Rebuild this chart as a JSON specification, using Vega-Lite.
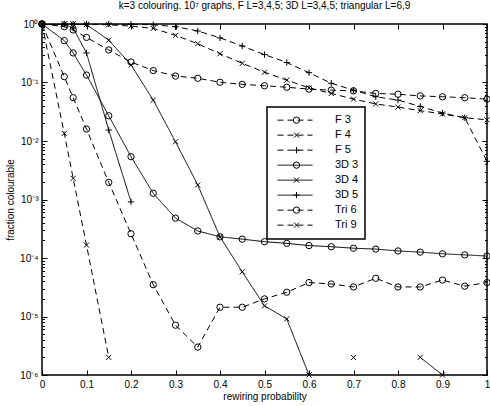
{
  "$schema": "https://vega.github.io/schema/vega-lite/v6.json",
  "width": 445,
  "height": 351,
  "autosize": {"type": "none"},
  "padding": {"left": 42, "top": 24, "right": 3, "bottom": 31},
  "title": {"text": "k=3 colouring. 10⁷ graphs, F L=3,4,5; 3D L=3,4,5; triangular L=6,9", "fontSize": 10, "font": "Liberation Sans", "fontWeight": "normal", "color": "black", "offset": 8, "anchor": "middle"},
  "config": {
    "view": {"stroke": "black", "strokeWidth": 1.5},
    "legend": {"strokeWidth": 1.5},
    "axis": {"domain": false, "grid": false, "tickColor": "black", "tickWidth": 1, "labelColor": "black", "labelFont": "Liberation Sans", "labelFontSize": 10, "titleFont": "Liberation Sans", "titleFontSize": 10, "titleFontWeight": "normal", "titleColor": "black", "labelOverlap": false, "labelFlush": false, "labelBound": false}
  },
  "data": {"values": [
    {"s": "F 3", "p": 0, "v": 1}, {"s": "F 3", "p": 0.05, "v": 0.9}, {"s": "F 3", "p": 0.07, "v": 0.79}, {"s": "F 3", "p": 0.1, "v": 0.59}, {"s": "F 3", "p": 0.15, "v": 0.36}, {"s": "F 3", "p": 0.2, "v": 0.224}, {"s": "F 3", "p": 0.25, "v": 0.16}, {"s": "F 3", "p": 0.3, "v": 0.129}, {"s": "F 3", "p": 0.35, "v": 0.118}, {"s": "F 3", "p": 0.4, "v": 0.101}, {"s": "F 3", "p": 0.45, "v": 0.093}, {"s": "F 3", "p": 0.5, "v": 0.088}, {"s": "F 3", "p": 0.55, "v": 0.083}, {"s": "F 3", "p": 0.6, "v": 0.077}, {"s": "F 3", "p": 0.65, "v": 0.074}, {"s": "F 3", "p": 0.7, "v": 0.072}, {"s": "F 3", "p": 0.75, "v": 0.065}, {"s": "F 3", "p": 0.8, "v": 0.063}, {"s": "F 3", "p": 0.85, "v": 0.059}, {"s": "F 3", "p": 0.9, "v": 0.057}, {"s": "F 3", "p": 0.95, "v": 0.055}, {"s": "F 3", "p": 1, "v": 0.052},
    {"s": "F 4", "p": 0, "v": 1}, {"s": "F 4", "p": 0.05, "v": 1}, {"s": "F 4", "p": 0.07, "v": 1}, {"s": "F 4", "p": 0.1, "v": 0.99}, {"s": "F 4", "p": 0.15, "v": 0.97}, {"s": "F 4", "p": 0.2, "v": 0.92}, {"s": "F 4", "p": 0.25, "v": 0.84}, {"s": "F 4", "p": 0.3, "v": 0.64}, {"s": "F 4", "p": 0.35, "v": 0.46}, {"s": "F 4", "p": 0.4, "v": 0.31}, {"s": "F 4", "p": 0.45, "v": 0.213}, {"s": "F 4", "p": 0.5, "v": 0.15}, {"s": "F 4", "p": 0.55, "v": 0.11}, {"s": "F 4", "p": 0.6, "v": 0.081}, {"s": "F 4", "p": 0.65, "v": 0.065}, {"s": "F 4", "p": 0.7, "v": 0.052}, {"s": "F 4", "p": 0.75, "v": 0.043}, {"s": "F 4", "p": 0.8, "v": 0.038}, {"s": "F 4", "p": 0.85, "v": 0.033}, {"s": "F 4", "p": 0.9, "v": 0.029}, {"s": "F 4", "p": 0.95, "v": 0.025}, {"s": "F 4", "p": 1, "v": 0.023},
    {"s": "F 5", "p": 0, "v": 1}, {"s": "F 5", "p": 0.05, "v": 1}, {"s": "F 5", "p": 0.07, "v": 1}, {"s": "F 5", "p": 0.1, "v": 1}, {"s": "F 5", "p": 0.15, "v": 1}, {"s": "F 5", "p": 0.2, "v": 0.99}, {"s": "F 5", "p": 0.25, "v": 0.97}, {"s": "F 5", "p": 0.3, "v": 0.9}, {"s": "F 5", "p": 0.35, "v": 0.76}, {"s": "F 5", "p": 0.4, "v": 0.58}, {"s": "F 5", "p": 0.45, "v": 0.42}, {"s": "F 5", "p": 0.5, "v": 0.3}, {"s": "F 5", "p": 0.55, "v": 0.22}, {"s": "F 5", "p": 0.6, "v": 0.147}, {"s": "F 5", "p": 0.65, "v": 0.097}, {"s": "F 5", "p": 0.7, "v": 0.074}, {"s": "F 5", "p": 0.75, "v": 0.057}, {"s": "F 5", "p": 0.8, "v": 0.05}, {"s": "F 5", "p": 0.85, "v": 0.039}, {"s": "F 5", "p": 0.9, "v": 0.03}, {"s": "F 5", "p": 0.95, "v": 0.025}, {"s": "F 5", "p": 1, "v": 0.0045},
    {"s": "3D 3", "p": 0, "v": 1}, {"s": "3D 3", "p": 0.05, "v": 0.52}, {"s": "3D 3", "p": 0.07, "v": 0.32}, {"s": "3D 3", "p": 0.1, "v": 0.134}, {"s": "3D 3", "p": 0.15, "v": 0.027}, {"s": "3D 3", "p": 0.2, "v": 0.0054}, {"s": "3D 3", "p": 0.25, "v": 0.00128}, {"s": "3D 3", "p": 0.3, "v": 0.00048}, {"s": "3D 3", "p": 0.35, "v": 0.00029}, {"s": "3D 3", "p": 0.4, "v": 0.00023}, {"s": "3D 3", "p": 0.45, "v": 0.00021}, {"s": "3D 3", "p": 0.5, "v": 0.00019}, {"s": "3D 3", "p": 0.55, "v": 0.000178}, {"s": "3D 3", "p": 0.6, "v": 0.000163}, {"s": "3D 3", "p": 0.65, "v": 0.000156}, {"s": "3D 3", "p": 0.7, "v": 0.000147}, {"s": "3D 3", "p": 0.75, "v": 0.000142}, {"s": "3D 3", "p": 0.8, "v": 0.000132}, {"s": "3D 3", "p": 0.85, "v": 0.000126}, {"s": "3D 3", "p": 0.9, "v": 0.000118}, {"s": "3D 3", "p": 0.95, "v": 0.000113}, {"s": "3D 3", "p": 1, "v": 0.000108},
    {"s": "3D 4", "p": 0, "v": 1}, {"s": "3D 4", "p": 0.05, "v": 1}, {"s": "3D 4", "p": 0.07, "v": 1}, {"s": "3D 4", "p": 0.1, "v": 0.98}, {"s": "3D 4", "p": 0.15, "v": 0.53}, {"s": "3D 4", "p": 0.2, "v": 0.2}, {"s": "3D 4", "p": 0.25, "v": 0.05}, {"s": "3D 4", "p": 0.3, "v": 0.0097}, {"s": "3D 4", "p": 0.35, "v": 0.00177}, {"s": "3D 4", "p": 0.4, "v": 0.00023}, {"s": "3D 4", "p": 0.45, "v": 0.000058}, {"s": "3D 4", "p": 0.5, "v": 0.0000152}, {"s": "3D 4", "p": 0.55, "v": 0.0000091}, {"s": "3D 4", "p": 0.6, "v": 0.000001}, {"s": "3D 4", "p": 0.65, "v": null}, {"s": "3D 4", "p": 0.7, "v": 0.000002}, {"s": "3D 4", "p": 0.75, "v": null}, {"s": "3D 4", "p": 0.8, "v": null}, {"s": "3D 4", "p": 0.85, "v": 0.000002}, {"s": "3D 4", "p": 0.9, "v": 0.000001},
    {"s": "3D 5", "p": 0, "v": 1}, {"s": "3D 5", "p": 0.05, "v": 0.99}, {"s": "3D 5", "p": 0.07, "v": 0.85}, {"s": "3D 5", "p": 0.1, "v": 0.32}, {"s": "3D 5", "p": 0.15, "v": 0.0154}, {"s": "3D 5", "p": 0.2, "v": 0.00091},
    {"s": "Tri 6", "p": 0, "v": 1}, {"s": "Tri 6", "p": 0.05, "v": 0.126}, {"s": "Tri 6", "p": 0.07, "v": 0.055}, {"s": "Tri 6", "p": 0.1, "v": 0.016}, {"s": "Tri 6", "p": 0.15, "v": 0.00196}, {"s": "Tri 6", "p": 0.2, "v": 0.00026}, {"s": "Tri 6", "p": 0.25, "v": 0.000035}, {"s": "Tri 6", "p": 0.3, "v": 0.0000071}, {"s": "Tri 6", "p": 0.35, "v": 0.000003}, {"s": "Tri 6", "p": 0.4, "v": 0.0000144}, {"s": "Tri 6", "p": 0.45, "v": 0.0000144}, {"s": "Tri 6", "p": 0.5, "v": 0.00002}, {"s": "Tri 6", "p": 0.55, "v": 0.000026}, {"s": "Tri 6", "p": 0.6, "v": 0.000038}, {"s": "Tri 6", "p": 0.65, "v": 0.000036}, {"s": "Tri 6", "p": 0.7, "v": 0.000032}, {"s": "Tri 6", "p": 0.75, "v": 0.000045}, {"s": "Tri 6", "p": 0.8, "v": 0.000032}, {"s": "Tri 6", "p": 0.85, "v": 0.000032}, {"s": "Tri 6", "p": 0.9, "v": 0.000042}, {"s": "Tri 6", "p": 0.95, "v": 0.000033}, {"s": "Tri 6", "p": 1, "v": 0.000038},
    {"s": "Tri 9", "p": 0, "v": 1}, {"s": "Tri 9", "p": 0.05, "v": 0.0135}, {"s": "Tri 9", "p": 0.07, "v": 0.0023}, {"s": "Tri 9", "p": 0.1, "v": 0.000166}, {"s": "Tri 9", "p": 0.15, "v": 0.000002}
  ]},
  "layer": [
    {
      "mark": {"type": "line", "stroke": "black", "strokeWidth": 1, "clip": true},
      "encoding": {
        "x": {"field": "p", "type": "quantitative", "scale": {"domain": [0, 1], "nice": false, "zero": false},
          "axis": {"orient": "bottom", "values": [0, 0.1, 0.2, 0.3, 0.4, 0.5, 0.6, 0.7, 0.8, 0.9, 1], "format": "~g", "tickSize": -5, "labelPadding": 9, "title": "rewiring probability", "titlePadding": 2}},
        "y": {"field": "v", "type": "quantitative", "scale": {"type": "log", "domain": [0.000001, 1], "nice": false},
          "axis": {"orient": "left", "title": "fraction colourable", "titlePadding": 4,
            "values": [0.000001, 0.000002, 0.000003, 0.000004, 0.000005, 0.000006, 0.000007, 0.000008, 0.000009, 0.00001, 0.00002, 0.00003, 0.00004, 0.00005, 0.00006, 0.00007, 0.00008, 0.00009, 0.0001, 0.0002, 0.0003, 0.0004, 0.0005, 0.0006, 0.0007, 0.0008, 0.0009, 0.001, 0.002, 0.003, 0.004, 0.005, 0.006, 0.007, 0.008, 0.009, 0.01, 0.02, 0.03, 0.04, 0.05, 0.06, 0.07, 0.08, 0.09, 0.1, 0.2, 0.3, 0.4, 0.5, 0.6, 0.7, 0.8, 0.9, 1],
            "labelExpr": "abs(log(datum.value)/LN10 - round(log(datum.value)/LN10)) < 0.01 ? '10' + ['⁰','⁻¹','⁻²','⁻³','⁻⁴','⁻⁵','⁻⁶'][-round(log(datum.value)/LN10)] : ''",
            "tickSize": {"condition": {"test": "abs(log(datum.value)/LN10 - round(log(datum.value)/LN10)) < 0.01", "value": -5}, "value": -2.5},
            "labelPadding": 9}},
        "strokeDash": {"field": "s", "type": "nominal",
          "scale": {"domain": ["F 3", "F 4", "F 5", "3D 3", "3D 4", "3D 5", "Tri 6", "Tri 9"], "range": [[6, 4], [6, 4], [6, 4], [1, 0], [1, 0], [1, 0], [6, 4], [6, 4]]},
          "legend": {"orient": "none", "legendX": 225, "legendY": 83, "title": null, "symbolType": "stroke", "symbolSize": 1225, "symbolStrokeWidth": 1, "symbolStrokeColor": "black", "strokeColor": "black", "fillColor": "white", "padding": 6, "symbolOffset": 4, "labelOffset": 22, "labelFontSize": 11, "labelFont": "Liberation Sans", "labelColor": "black", "clipHeight": 14.3, "rowPadding": 0, "labelExpr": "datum.label + '      '"}}
      }
    },
    {
      "mark": {"type": "point", "filled": false, "stroke": "black", "strokeWidth": 1, "size": 40, "opacity": 1, "clip": false},
      "encoding": {
        "x": {"field": "p", "type": "quantitative",
          "axis": {"orient": "top", "values": [0, 0.1, 0.2, 0.3, 0.4, 0.5, 0.6, 0.7, 0.8, 0.9, 1], "labels": false, "tickSize": -5, "title": null}},
        "y": {"field": "v", "type": "quantitative",
          "axis": {"orient": "right", "labels": false, "title": null,
            "values": [0.000001, 0.000002, 0.000003, 0.000004, 0.000005, 0.000006, 0.000007, 0.000008, 0.000009, 0.00001, 0.00002, 0.00003, 0.00004, 0.00005, 0.00006, 0.00007, 0.00008, 0.00009, 0.0001, 0.0002, 0.0003, 0.0004, 0.0005, 0.0006, 0.0007, 0.0008, 0.0009, 0.001, 0.002, 0.003, 0.004, 0.005, 0.006, 0.007, 0.008, 0.009, 0.01, 0.02, 0.03, 0.04, 0.05, 0.06, 0.07, 0.08, 0.09, 0.1, 0.2, 0.3, 0.4, 0.5, 0.6, 0.7, 0.8, 0.9, 1],
            "tickSize": {"condition": {"test": "abs(log(datum.value)/LN10 - round(log(datum.value)/LN10)) < 0.01", "value": -5}, "value": -2.5}}},
        "shape": {"field": "s", "type": "nominal",
          "scale": {"domain": ["F 3", "F 4", "F 5", "3D 3", "3D 4", "3D 5", "Tri 6", "Tri 9"], "range": ["circle", "M-0.8,-0.8L0.8,0.8M-0.8,0.8L0.8,-0.8", "M-1,0L1,0M0,-1L0,1", "circle", "M-0.8,-0.8L0.8,0.8M-0.8,0.8L0.8,-0.8", "M-1,0L1,0M0,-1L0,1", "circle", "M-0.8,-0.8L0.8,0.8M-0.8,0.8L0.8,-0.8"]},
          "legend": {"orient": "none", "legendX": 225, "legendY": 83, "title": null, "symbolSize": 40, "symbolStrokeWidth": 1, "symbolStrokeColor": "black", "symbolFillColor": "transparent", "padding": 6, "symbolOffset": 18, "labelExpr": "''", "labelFontSize": 11, "clipHeight": 14.3, "rowPadding": 0}}
      }
    }
  ],
  "resolve": {"axis": {"x": "independent", "y": "independent"}, "legend": {"shape": "independent"}}
}
